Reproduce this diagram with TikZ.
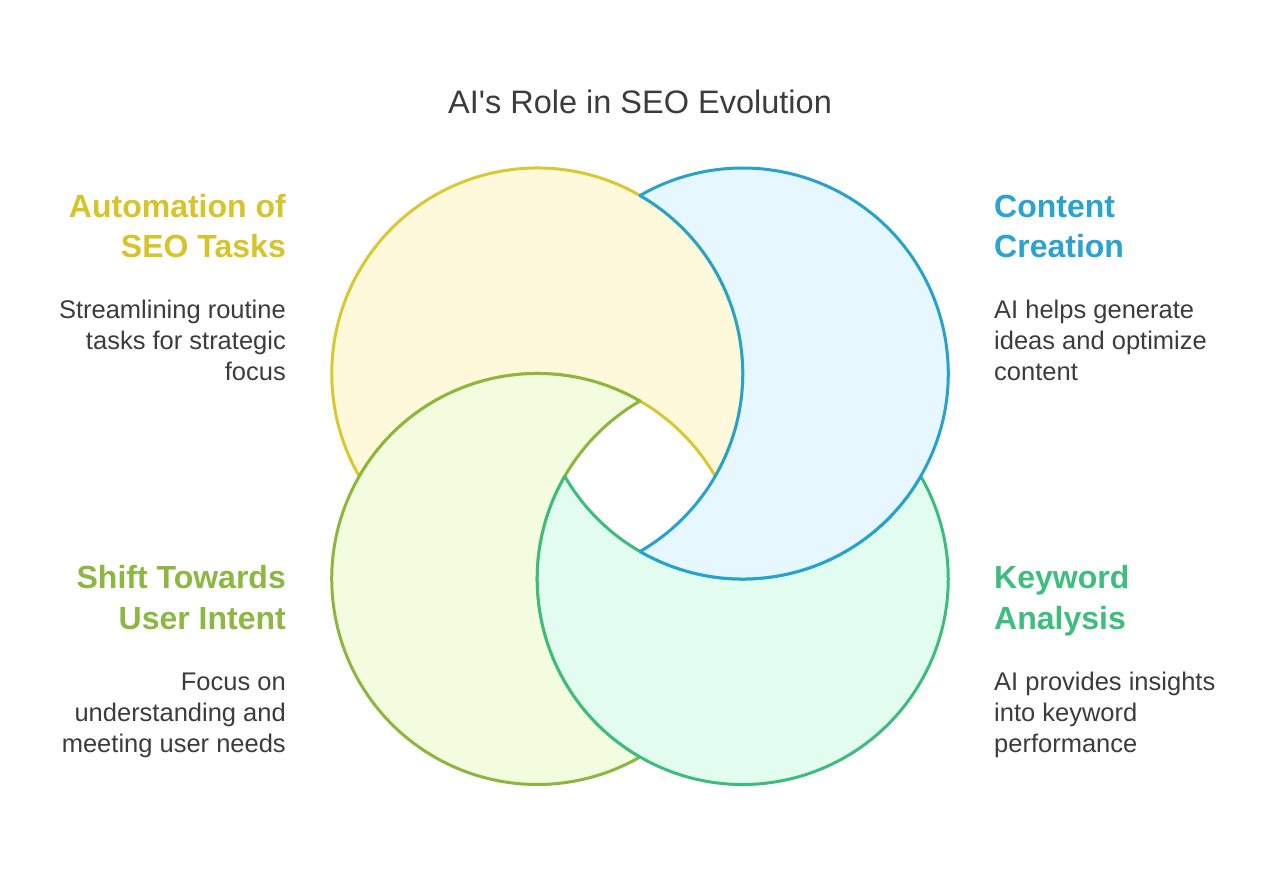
\documentclass[tikz,border=0pt]{standalone}
\usepackage{fontspec}
\setmainfont{Liberation Sans}
\definecolor{ylS}{RGB}{216,200,50}
\definecolor{ylF}{RGB}{255,249,219}
\definecolor{ylT}{RGB}{214,196,40}
\definecolor{blS}{RGB}{38,162,205}
\definecolor{blF}{RGB}{230,247,255}
\definecolor{blT}{RGB}{41,163,209}
\definecolor{lmS}{RGB}{140,182,62}
\definecolor{lmF}{RGB}{243,252,222}
\definecolor{lmT}{RGB}{140,184,66}
\definecolor{grS}{RGB}{62,188,125}
\definecolor{grF}{RGB}{226,252,239}
\definecolor{grT}{RGB}{62,190,125}
\definecolor{txt}{RGB}{60,60,60}
\begin{document}
\begin{tikzpicture}[x=1pt,y=1pt,
  ring/.style={line width=3pt, line join=round},
  body/.style={font=\fontsize{25.5}{31}\selectfont, text=txt, inner sep=0pt},
  head/.style={font=\fontsize{32}{40}\selectfont\bfseries, inner sep=0pt},
  ttl/.style={font=\fontsize{32.5}{38}\selectfont, text=txt, inner sep=0pt}]
\fill[white] (0,0) rectangle (1280,871);
\useasboundingbox (0,0) rectangle (1280,871);
\def\R{205.5}
\coordinate (Y) at (537.25,497.5);
\coordinate (B) at (742.75,497.5);
\coordinate (L) at (537.25,292);
\coordinate (G) at (742.75,292);
% yellow = Y minus L
\filldraw[ring, draw=ylS, fill=ylF] (Y) ++(-30:\R) arc[start angle=-30, end angle=210, radius=\R] arc[start angle=150, end angle=30, radius=\R] -- cycle;
% lime = L minus G
\filldraw[ring, draw=lmS, fill=lmF] (L) ++(60:\R) arc[start angle=60, end angle=300, radius=\R] arc[start angle=240, end angle=120, radius=\R] -- cycle;
% green = G minus B
\filldraw[ring, draw=grS, fill=grF] (G) ++(150:\R) arc[start angle=150, end angle=390, radius=\R] arc[start angle=330, end angle=210, radius=\R] -- cycle;
% blue = B minus Y
\filldraw[ring, draw=blS, fill=blF] (B) ++(240:\R) arc[start angle=240, end angle=480, radius=\R] arc[start angle=420, end angle=300, radius=\R] -- cycle;
% title
\node[ttl, anchor=base] (title) at (640,757) {AI\textquotesingle s Role in SEO Evolution};
% top left
\node[head, text=ylT, anchor=base east] (h1a) at (286,653) {Automation of};
\node[head, text=ylT, anchor=base east] (h1b) at (286,613) {SEO Tasks};
\node[body, anchor=base east] (b1a) at (286,552) {Streamlining routine};
\node[body, anchor=base east] (b1b) at (286,521) {tasks for strategic};
\node[body, anchor=base east] (b1c) at (286,490) {focus};
% top right
\node[head, text=blT, anchor=base west] (h2a) at (994,653) {Content};
\node[head, text=blT, anchor=base west] (h2b) at (994,613) {Creation};
\node[body, anchor=base west] (b2a) at (994,552) {AI helps generate};
\node[body, anchor=base west] (b2b) at (994,521) {ideas and optimize};
\node[body, anchor=base west] (b2c) at (994,490) {content};
% bottom left
\node[head, text=lmT, anchor=base east] (h3a) at (286,282) {Shift Towards};
\node[head, text=lmT, anchor=base east] (h3b) at (286,241) {User Intent};
\node[body, anchor=base east] (b3a) at (286,181) {Focus on};
\node[body, anchor=base east] (b3b) at (286,150) {understanding and};
\node[body, anchor=base east] (b3c) at (286,119) {meeting user needs};
% bottom right
\node[head, text=grT, anchor=base west] (h4a) at (994,282) {Keyword};
\node[head, text=grT, anchor=base west] (h4b) at (994,241) {Analysis};
\node[body, anchor=base west] (b4a) at (994,181) {AI provides insights};
\node[body, anchor=base west] (b4b) at (994,150) {into keyword};
\node[body, anchor=base west] (b4c) at (994,119) {performance};
\end{tikzpicture}
\end{document}
